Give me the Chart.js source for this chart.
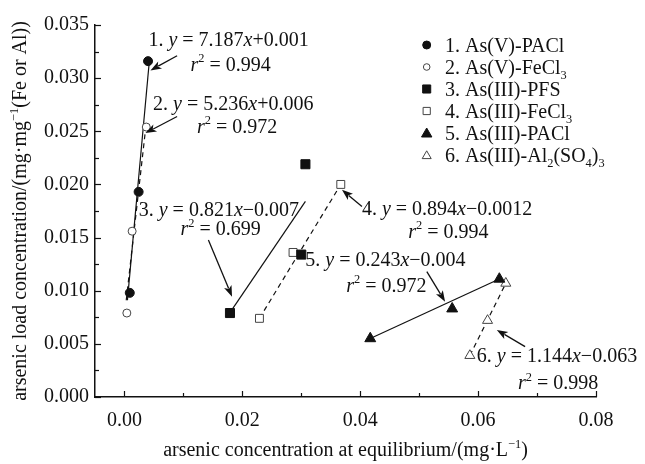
<!DOCTYPE html>
<html><head><meta charset="utf-8">
<script src="https://cdn.jsdelivr.net/npm/chart.js@4/dist/chart.umd.min.js"></script>
<style>html,body{margin:0;padding:0;background:#fff;}#wrap{width:645px;height:464px;}</style>
</head><body><div id="wrap"><canvas id="c" width="645" height="464"></canvas></div>
<script>
// ---- data ----
const seriesNames = ['1. As(V)-PACl', '2. As(V)-FeCl_{3}', '3. As(III)-PFS', '4. As(III)-FeCl_{3}', '5. As(III)-PACl', '6. As(III)-Al_{2}(SO_{4})_{3}'];
const s1X = [0.0009, 0.0024, 0.0040];  const s1Y = [0.0098, 0.0193, 0.0316];
const s2X = [0.0004, 0.0013, 0.0037];  const s2Y = [0.0079, 0.0156, 0.0254];
const s3X = [0.0179, 0.0300, 0.0307];  const s3Y = [0.0079, 0.0134, 0.0219];
const s4X = [0.0229, 0.0286, 0.0367];  const s4Y = [0.0074, 0.0136, 0.0200];
const s5X = [0.0417, 0.0556, 0.0636];  const s5Y = [0.0055, 0.0083, 0.0111];
const s6X = [0.0586, 0.0616, 0.0647];  const s6Y = [0.0039, 0.0072, 0.0107];
// fitted line end points
const f1X = [0.0005, 0.0042];  const f1Y = [0.0091, 0.0315];
const f2X = [0.0003, 0.0036];  const f2Y = [0.0091, 0.0253];
const f3X = [0.0181, 0.0307];  const f3Y = [0.0081, 0.0184];
const f4X = [0.0229, 0.0367];  const f4Y = [0.0074, 0.0200];
const f5X = [0.0417, 0.0636];  const f5Y = [0.0055, 0.0111];
const f6X = [0.0586, 0.0647];  const f6Y = [0.0039, 0.0107];
const eqLabels = ['1. *y* = 7.187*x*+0.001', '2. *y* = 5.236*x*+0.006', '3. *y* = 0.821*x*\u22120.007',
                  '4. *y* = 0.894*x*\u22120.0012', '5. *y* = 0.243*x*\u22120.004', '6. *y* = 1.144*x*\u22120.063'];
const r2Labels = ['*r*^{2} = 0.994', '*r*^{2} = 0.972', '*r*^{2} = 0.699', '*r*^{2} = 0.994', '*r*^{2} = 0.972', '*r*^{2} = 0.998'];
const xTickValues = [0, 0.01, 0.02, 0.03, 0.04, 0.05, 0.06, 0.07, 0.08];
const xTickLabels = ['0.00', '', '0.02', '', '0.04', '', '0.06', '', '0.08'];
const yTickValues = [0, 0.0025, 0.005, 0.0075, 0.01, 0.0125, 0.015, 0.0175, 0.02, 0.0225, 0.025, 0.0275, 0.03, 0.0325, 0.035];
const yTickLabels = ['0.000', '', '0.005', '', '0.010', '', '0.015', '', '0.020', '', '0.025', '', '0.030', '', '0.035'];
const xTitle = 'arsenic concentration at equilibrium/(mg\u00b7L^{\u22121})';
const yTitle = 'arsenic load concentration/(mg\u00b7mg^{\u22121}(Fe or Al))';

// ---- layout / style (not data) ----
const FONT = "'Liberation Serif', 'Times New Roman', serif";
const INK = '#111';
// annotation placement in data units: eq text (left, baseline), r2 text, arrow from -> to
const annot = [
  {eq:[0.00407,0.03305], r2:[0.01119,0.0307],  a:[0.00893,0.03211, 0.00441,0.03073]},
  {eq:[0.00486,0.02702], r2:[0.01232,0.02486], a:[0.00893,0.02639, 0.00356,0.02483]},
  {eq:[0.00242,0.01700], r2:[0.00949,0.01525], a:[0.01424,0.01478, 0.01825,0.00944]},
  {eq:[0.04029,0.01714], r2:[0.04814,0.01497], a:[0.04029,0.01792, 0.0369,0.01949]},
  {eq:[0.03068,0.01234], r2:[0.03763,0.00992], a:[0.0513,0.0118, 0.0544,0.00897]},
  {eq:[0.05978,0.00332], r2:[0.06678,0.00075], a:[0.06797,0.00474, 0.06317,0.00631]}
];

const pts = (xs, ys) => xs.map((x, i) => ({x, y: ys[i]}));
const markers = [
  {style:'circle',   r:4.5, fill:INK,    stroke:INK,    lr:4},
  {style:'circle',   r:4,   fill:'#fff', stroke:'#444', lr:3.3},
  {style:'rect',     r:6.4, fill:INK,    stroke:INK,    lr:5.6},
  {style:'rect',     r:5.6, fill:'#fff', stroke:'#444', lr:5},
  {style:'triangle', r:6.3, fill:INK,    stroke:INK,    lr:6},
  {style:'triangle', r:5.8, fill:'#fff', stroke:'#444', lr:5.2}
];
const sX = [s1X, s2X, s3X, s4X, s5X, s6X], sY = [s1Y, s2Y, s3Y, s4Y, s5Y, s6Y];
const fX = [f1X, f2X, f3X, f4X, f5X, f6X], fY = [f1Y, f2Y, f3Y, f4Y, f5Y, f6Y];
const fitDash = [[], [5,4], [], [5,4], [], [5,4]];

const datasets = [];
sX.forEach((xs, i) => datasets.push({
  type:'scatter', label: seriesNames[i], data: pts(xs, sY[i]), showLine:false,
  pointStyle: markers[i].style, pointRadius: markers[i].r, pointHoverRadius: markers[i].r,
  backgroundColor: markers[i].fill, borderColor: markers[i].stroke, borderWidth: 1
}));
fX.forEach((xs, i) => datasets.push({
  type:'line', label:'fit ' + (i+1), data: pts(xs, fY[i]), pointRadius:0, borderColor: INK,
  borderWidth: 1.2, borderDash: fitDash[i], fill:false, tension:0
}));

function parseRich(str) {
  const segs = []; let i = 0, buf = '', italic = false;
  const push = (o) => { if (buf) { segs.push({t:buf, i:italic}); buf=''; } if (o) segs.push(o); };
  while (i < str.length) {
    const c = str[i];
    if (c === '*') { push(); italic = !italic; i++; }
    else if ((c === '^' || c === '_') && str[i+1] === '{') {
      const end = str.indexOf('}', i);
      push({t: str.slice(i+2, end), i: italic, sup: c === '^', sub: c === '_'});
      i = end + 1;
    } else { buf += c; i++; }
  }
  push();
  return segs;
}
function richWidth(ctx, str, size) {
  let w = 0;
  for (const s of parseRich(str)) {
    const sz = (s.sup || s.sub) ? size*0.62 : size;
    ctx.font = (s.i ? 'italic ' : '') + sz + 'px ' + FONT;
    w += ctx.measureText(s.t).width;
  }
  return w;
}
function richText(ctx, str, x, y, size) {
  let cx = x;
  ctx.textBaseline = 'alphabetic'; ctx.textAlign = 'left';
  for (const s of parseRich(str)) {
    let sz = size, dy = 0;
    if (s.sup) { sz = size*0.62; dy = -size*0.42; }
    if (s.sub) { sz = size*0.62; dy = size*0.26; }
    ctx.font = (s.i ? 'italic ' : '') + sz + 'px ' + FONT;
    ctx.fillText(s.t, cx, y + dy);
    cx += ctx.measureText(s.t).width;
  }
  return cx;
}
function drawMarker(ctx, style, x, y, r, fill, stroke) {
  ctx.beginPath();
  if (style === 'circle') ctx.arc(x, y, r, 0, Math.PI*2);
  else if (style === 'rect') ctx.rect(x - r, y - r, 2*r, 2*r);
  else { ctx.moveTo(x, y - r); ctx.lineTo(x + r*0.866, y + r*0.5); ctx.lineTo(x - r*0.866, y + r*0.5); ctx.closePath(); }
  ctx.fillStyle = fill; ctx.fill();
  ctx.lineWidth = 1; ctx.strokeStyle = stroke; ctx.stroke();
}

const deco = {
  id: 'deco',
  afterDraw(chart) {
    const ctx = chart.ctx, xs = chart.scales.x, ys = chart.scales.y, ca = chart.chartArea;
    ctx.save();
    ctx.fillStyle = INK; ctx.strokeStyle = INK;
    // inward tick marks
    ctx.lineWidth = 1.2;
    xTickValues.forEach((v, i) => {
      const px = Math.round(xs.getPixelForValue(v)) + 0.5, len = xTickLabels[i] ? 6 : 4;
      ctx.beginPath(); ctx.moveTo(px, ca.bottom); ctx.lineTo(px, ca.bottom - len); ctx.stroke();
    });
    yTickValues.forEach((v, i) => {
      const py = Math.round(ys.getPixelForValue(v)) + 0.5, len = yTickLabels[i] ? 6 : 4;
      ctx.beginPath(); ctx.moveTo(ca.left, py); ctx.lineTo(ca.left + len, py); ctx.stroke();
    });
    // annotations
    annot.forEach((a, i) => {
      ctx.fillStyle = INK;
      richText(ctx, eqLabels[i], xs.getPixelForValue(a.eq[0]), ys.getPixelForValue(a.eq[1]), 20);
      richText(ctx, r2Labels[i], xs.getPixelForValue(a.r2[0]), ys.getPixelForValue(a.r2[1]), 20);
      const x0 = xs.getPixelForValue(a.a[0]), y0 = ys.getPixelForValue(a.a[1]);
      const x1 = xs.getPixelForValue(a.a[2]), y1 = ys.getPixelForValue(a.a[3]);
      const ang = Math.atan2(y1 - y0, x1 - x0), hl = 11, hw = 4;
      ctx.lineWidth = 1.3; ctx.strokeStyle = INK;
      ctx.beginPath(); ctx.moveTo(x0, y0); ctx.lineTo(x1 - Math.cos(ang)*hl*0.8, y1 - Math.sin(ang)*hl*0.8); ctx.stroke();
      ctx.beginPath();
      ctx.moveTo(x1, y1);
      ctx.lineTo(x1 - Math.cos(ang)*hl - Math.sin(ang)*hw, y1 - Math.sin(ang)*hl + Math.cos(ang)*hw);
      ctx.lineTo(x1 - Math.cos(ang)*hl*0.75, y1 - Math.sin(ang)*hl*0.75);
      ctx.lineTo(x1 - Math.cos(ang)*hl + Math.sin(ang)*hw, y1 - Math.sin(ang)*hl - Math.cos(ang)*hw);
      ctx.closePath(); ctx.fill();
    });
    // legend
    seriesNames.forEach((name, i) => {
      const y = 45 + i*22;
      const m = markers[i];
      drawMarker(ctx, m.style, 426.7, y + (m.style === 'triangle' ? 1 : 0), m.lr * (m.style === 'rect' ? 0.72 : 1), m.fill, m.stroke);
      ctx.fillStyle = INK;
      richText(ctx, name, 445, y + 7, 20);
    });
    // axis titles
    const xw = richWidth(ctx, xTitle, 20);
    richText(ctx, xTitle, (ca.left + ca.right)/2 - xw/2, 456, 20);
    ctx.translate(26, (ca.top + ca.bottom)/2);
    ctx.rotate(-Math.PI/2);
    const yw = richWidth(ctx, yTitle, 20);
    richText(ctx, yTitle, -yw/2, 0, 20);
    ctx.restore();
  }
};

new Chart(document.getElementById('c'), {
  data: { datasets },
  options: {
    responsive:false, animation:false, devicePixelRatio:1,
    layout: { padding: { top:25, right:49, left:0, bottom:0 } },
    plugins: { legend:{display:false}, tooltip:{enabled:false} },
    scales: {
      x: {
        type:'linear', min:-0.005, max:0.08,
        afterBuildTicks: s => { s.ticks = xTickValues.map(v => ({value:v})); },
        afterFit: s => { s.height = 67; },
        ticks: { callback:(v, i) => xTickLabels[i], autoSkip:false, maxRotation:0, padding:12,
                 color:INK, font:{family:FONT, size:20} },
        grid: { display:false, drawTicks:false, tickLength:0 },
        border: { display:true, color:INK, width:1.5 }
      },
      y: {
        type:'linear', min:0, max:0.035,
        afterBuildTicks: s => { s.ticks = yTickValues.map(v => ({value:v})); },
        afterFit: s => { s.width = 95; },
        ticks: { callback:(v, i) => yTickLabels[i], autoSkip:false, padding:6,
                 color:INK, font:{family:FONT, size:20} },
        grid: { display:false, drawTicks:false, tickLength:0 },
        border: { display:true, color:INK, width:1.5 }
      }
    }
  },
  plugins: [deco]
});
</script>
</body></html>
